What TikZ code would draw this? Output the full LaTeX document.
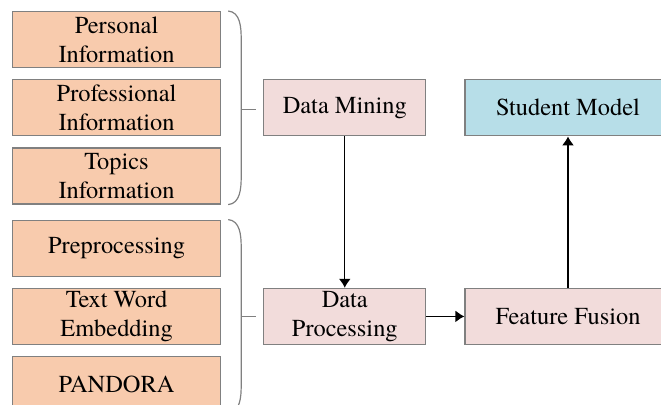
\documentclass[tikz,border=0pt]{standalone}
\usepackage{fontspec}
\setmainfont{TeX Gyre Termes}
\usepackage{tikz}
\usetikzlibrary{positioning,arrows.meta}
\definecolor{myorange}{RGB}{248,203,173}
\definecolor{mypink}{RGB}{242,220,219}
\definecolor{myblue}{RGB}{183,222,232}
\definecolor{mygray}{RGB}{128,128,128}

\begin{document}
\begin{tikzpicture}[node distance=5.5pt and 21pt,inner sep=0pt,font=\fontsize{12.2}{14.5}\selectfont]
\tikzstyle{src}=[rectangle, draw=mygray, line width=0.6pt, fill=myorange, minimum width=104pt, minimum height=28pt, align=center]
\tikzstyle{task}=[rectangle, draw=mygray, line width=0.6pt, fill=mypink, minimum width=81pt, minimum height=28pt, align=center]
\tikzstyle{result}=[task, fill=myblue, minimum width=103pt]
\tikzstyle{connect}=[-{Latex[length=4.5pt,width=6pt]}, line width=0.7pt]
\tikzstyle{brace}=[draw=mygray, line width=0.6pt]
\useasboundingbox (0,0) rectangle (330.5pt,-202.5pt);
\node[src,anchor=north west] (pers) at (6pt,-5.5pt) {Personal\\Information};
\node[src] (prof) [below=of pers] {Professional\\Information};
\node[src] (topic) [below=of prof] {Topics\\Information};
\node[src] (prep) [below=7.5pt of topic] {Preprocessing};
\node[src] (embed) [below=of prep] {Text Word\\Embedding};
\node[src] (pandora) [below=of embed] {PANDORA};
\node[task] (mining) [right=of prof] {Data Mining};
\node[task] (processing) [right=of embed] {Data\\Processing};
\node[result] (student) [right=19pt of mining] {Student Model};
\node[task,minimum width=103pt] (fusion) [right=19pt of processing] {Feature Fusion};
% brackets
\draw[brace] ([xshift=3.5pt]pers.north east) to[out=-5,in=90] ([xshift=10pt,yshift=-14pt]pers.north east)
  -- ([xshift=10pt,yshift=14pt]topic.south east) to[out=-90,in=5] ([xshift=3.5pt]topic.south east);
\draw[brace] ([xshift=10pt,yshift=-0.7pt]prof.east) -- ([xshift=-3.5pt,yshift=-0.7pt]mining.west);
\draw[brace] ([xshift=3.5pt]prep.north east) to[out=-5,in=90] ([xshift=10pt,yshift=-14pt]prep.north east)
  -- ([xshift=10pt,yshift=14pt]pandora.south east) to[out=-90,in=5] ([xshift=3.5pt]pandora.south east);
\draw[brace] ([xshift=10pt]embed.east) -- ([xshift=-3.5pt]processing.west);
% flow
\path (mining) edge[connect] (processing);
\path (processing) edge[connect] (fusion);
\path (fusion) edge[connect] (student);
\end{tikzpicture}
\end{document}
